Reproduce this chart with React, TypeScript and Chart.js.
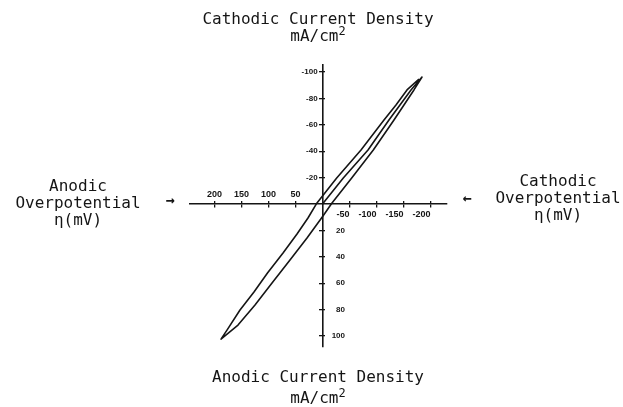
import { useEffect, useRef } from "react";
import { Chart, registerables } from "chart.js";

Chart.register(...registerables);

// Overpotential η in mV (anodic positive, drawn to the left),
// current density in mA/cm² (anodic positive, drawn downward).
const loopOverpotential = [
  0, -38.5, -84.3, -123.1, -143.5, -163.9, -184.3,
  -169.4, -150.9, -132.4, -94.1, -54.1, -17.6, -0.9, 28.7, 60.2, 93.5, 125.0, 156.5, 188.0,
  176.9, 152.8, 126.9, 101.9, 73.1, 47.2, 26.9, 10.2,
  -26.3, -71.3, -113.9, -136.1, -156.5, -178.7,
];
const loopCurrent = [
  0, -19.7, -40.9, -63.6, -75.0, -86.4, -96.2,
  -86.4, -75.0, -63.6, -40.9, -19.7, -0.8, 9.1, 25.8, 42.4, 59.8, 76.5, 91.7, 102.3,
  95.5, 80.3, 66.7, 52.3, 37.1, 22.7, 10.6, -0.8,
  -19.7, -40.9, -63.6, -75.0, -86.4, -94.7,
];

const anodicEtaTicks = [200, 150, 100, 50];
const cathodicEtaTicks = [-50, -100, -150, -200];
const cathodicCurrentTicks = [-100, -80, -60, -40, -20];
const anodicCurrentTicks = [20, 40, 60, 80, 100];

const X_MIN = -230.6;
const X_MAX = 245.4;
const Y_MIN = -105.3;
const Y_MAX = 108.3;

const INK = "#151515";
const MONO = "'DejaVu Sans Mono', monospace";

export default function App() {
  const canvasRef = useRef<HTMLCanvasElement | null>(null);

  useEffect(() => {
    const canvas = canvasRef.current;
    if (!canvas) return;

    const tickSet = (vals: number[]) => (s: any) => {
      s.ticks = vals.map((v) => ({ value: v }));
    };
    const zeroH = (s: any) => {
      s.height = 0;
    };
    const zeroW = (s: any) => {
      s.width = 0;
    };

    const xBase = {
      type: "linear" as const,
      reverse: true,
      min: X_MIN,
      max: X_MAX,
      afterFit: zeroH,
    };
    const yBase = {
      type: "linear" as const,
      reverse: true,
      min: Y_MIN,
      max: Y_MAX,
      afterFit: zeroW,
    };
    const allX = [...anodicEtaTicks, ...cathodicEtaTicks];
    const allY = [...cathodicCurrentTicks, ...anodicCurrentTicks];
    const tickFont = { family: "'Liberation Sans', sans-serif", size: 9, weight: "bold" as const };
    const yTickFont = { family: "'Liberation Sans', sans-serif", size: 8, weight: "bold" as const };

    const chart = new Chart(canvas, {
      type: "scatter",
      data: {
        datasets: [
          {
            data: loopOverpotential.map((x, i) => ({ x, y: loopCurrent[i] })),
            showLine: true,
            borderColor: INK,
            borderWidth: 1.6,
            pointRadius: 0,
            tension: 0,
            borderJoinStyle: "round",
            xAxisID: "x",
            yAxisID: "y",
          },
        ],
      },
      options: {
        responsive: false,
        animation: false,
        layout: { padding: { left: 190, right: 176, top: 65, bottom: 60 } },
        plugins: { legend: { display: false }, tooltip: { enabled: false } },
        scales: {
          x: {
            ...xBase,
            position: { y: 0 },
            afterBuildTicks: tickSet(allX),
            border: { display: true, color: INK, width: 1.4 },
            grid: { drawOnChartArea: false, drawTicks: true, tickLength: 3, color: INK, lineWidth: 1.3 },
            ticks: { display: false },
          },
          xUp: {
            ...xBase,
            axis: "x",
            position: { y: 0 },
            afterBuildTicks: tickSet(allX),
            border: { display: false },
            grid: { drawOnChartArea: false, drawTicks: true, tickLength: -3, color: INK, lineWidth: 1.3 },
            ticks: { display: false },
          },
          xLabRight: {
            ...xBase,
            axis: "x",
            position: { y: 0 },
            afterBuildTicks: tickSet(cathodicEtaTicks),
            border: { display: false },
            grid: { display: false, drawTicks: false },
            ticks: { display: true, align: "end", padding: 5, color: INK, font: tickFont, maxRotation: 0, autoSkip: false },
          },
          xLabLeft: {
            ...xBase,
            axis: "x",
            position: { y: -11 },
            afterBuildTicks: tickSet(anodicEtaTicks),
            border: { display: false },
            grid: { display: false, drawTicks: false },
            ticks: { display: true, padding: 0, color: INK, font: tickFont, maxRotation: 0, autoSkip: false },
          },
          y: {
            ...yBase,
            position: { x: 0 },
            afterBuildTicks: tickSet(allY),
            border: { display: true, color: INK, width: 1.6 },
            grid: { drawOnChartArea: false, drawTicks: true, tickLength: 3, color: INK, lineWidth: 1.3 },
            ticks: { display: false },
          },
          yRight: {
            ...yBase,
            axis: "y",
            position: { x: 0 },
            afterBuildTicks: tickSet(allY),
            border: { display: false },
            grid: { drawOnChartArea: false, drawTicks: true, tickLength: -3, color: INK, lineWidth: 1.3 },
            ticks: { display: false },
          },
          yLabTop: {
            ...yBase,
            axis: "y",
            position: { x: 9 },
            afterBuildTicks: tickSet(cathodicCurrentTicks),
            border: { display: false },
            grid: { display: false, drawTicks: false },
            ticks: { display: true, padding: 0, color: INK, font: yTickFont, autoSkip: false },
          },
          yLabBottom: {
            ...yBase,
            axis: "y",
            position: { x: -41.7 },
            afterBuildTicks: tickSet(anodicCurrentTicks),
            border: { display: false },
            grid: { display: false, drawTicks: false },
            ticks: { display: true, padding: 0, color: INK, font: yTickFont, autoSkip: false },
          },
        } as any,
      },
    });

    return () => chart.destroy();
  }, []);

  const textStyle = (cx: number, top: number, size: number, lh?: number): React.CSSProperties => ({
    position: "absolute",
    left: cx - 150,
    top,
    width: 300,
    textAlign: "center",
    fontFamily: MONO,
    fontSize: size,
    lineHeight: `${lh ?? Math.round(size * 1.08)}px`,
    color: INK,
    whiteSpace: "pre",
  });

  return (
    <div style={{ position: "absolute", left: 0, top: 0, width: 623, height: 407, background: "#fff" }}>
      <canvas ref={canvasRef} width={623} height={407} style={{ position: "absolute", left: 0, top: 0 }} />
      <div style={textStyle(318, 10, 16)}>
        {"Cathodic Current Density"}
        <br />
        {"mA/cm"}
        <sup style={{ fontSize: 12, lineHeight: 0 }}>2</sup>
      </div>
      <div style={textStyle(318, 366, 16, 21)}>
        {"Anodic Current Density"}
        <br />
        {"mA/cm"}
        <sup style={{ fontSize: 12, lineHeight: 0 }}>2</sup>
      </div>
      <div style={textStyle(78, 177, 16)}>{"Anodic\nOverpotential\nη(mV)"}</div>
      <div style={textStyle(558, 172, 16)}>{"Cathodic\nOverpotential\nη(mV)"}</div>
      <div style={{ ...textStyle(170, 192, 15), fontWeight: "bold" }}>{"→"}</div>
      <div style={{ ...textStyle(467, 190, 15), fontWeight: "bold" }}>{"←"}</div>
    </div>
  );
}
